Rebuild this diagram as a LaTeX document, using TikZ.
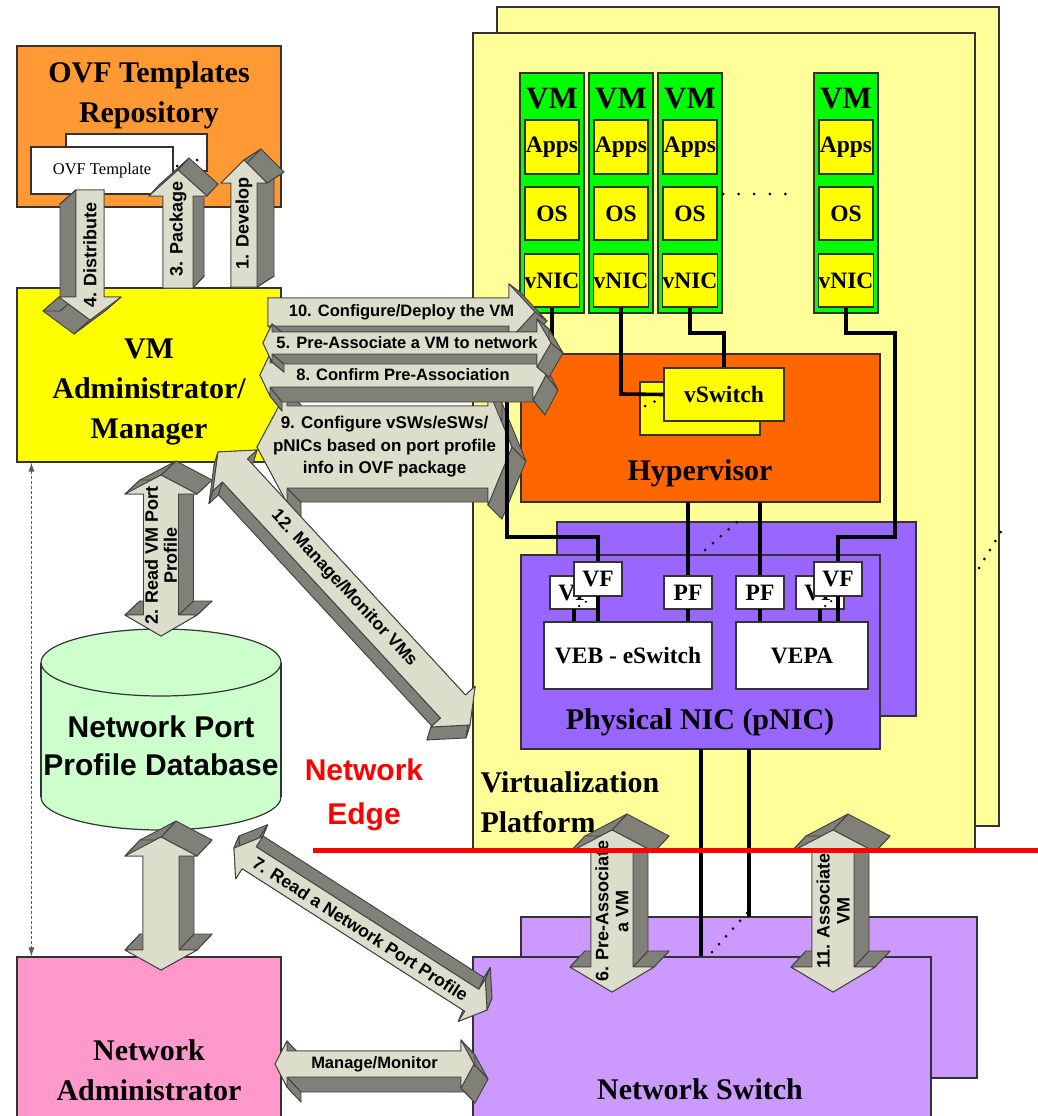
\documentclass[tikz,border=0pt]{standalone}
\usepackage{fontspec}
\setmainfont{Liberation Serif}
\setsansfont{Liberation Sans}
\usetikzlibrary{calc,arrows.meta}
\definecolor{vpy}{HTML}{FFFF99}
\definecolor{vmg}{HTML}{00FF00}
\definecolor{yel}{HTML}{FFFF00}
\definecolor{hypc}{HTML}{FF6600}
\definecolor{pnicc}{HTML}{9966FF}
\definecolor{nswc}{HTML}{CC99FF}
\definecolor{ovfc}{HTML}{FF9933}
\definecolor{dbg}{HTML}{CCFFCC}
\definecolor{nadmc}{HTML}{FF99CC}
\definecolor{afront}{HTML}{DDDDCC}
\definecolor{adark}{HTML}{808078}
\definecolor{edgec}{HTML}{333333}
\definecolor{arrline}{HTML}{404040}

\newcommand\rbox[7]{\node[#2, inner sep=0pt, minimum width={(#5)-(#3)}, minimum height={(#6)-(#4)}] (#1) at ({((#3)+(#5))/2},{((#4)+(#6))/2}) {#7};}
\newcommand\tdfont{\fontsize{17.5}{21}\selectfont}
% #1 from, #2 to, #3 shaft half width, #4/#5 head at from (length/half width), #6/#7 head at to, #8 extrusion offset, #9 text
\newcommand\tdarrow[9]{%
  \path let \p1=($(#2)-(#1)$) in \pgfextra{\pgfmathsetmacro\tdang{atan2(\y1,\x1)}\pgfmathsetmacro\tdlen{veclen(\x1,\y1)}\xdef\tdA{\tdang}\xdef\tdL{\tdlen}};
  \begin{scope}[shift={(#1)},rotate=\tdA]
    \coordinate (q1) at (0,0);
    \coordinate (q2) at (#4,#5);
    \coordinate (q3) at (#4,#3);
    \coordinate (q4) at ({\tdL-(#6)},#3);
    \coordinate (q5) at ({\tdL-(#6)},#7);
    \coordinate (q6) at (\tdL,0);
    \coordinate (q7) at ({\tdL-(#6)},-#7);
    \coordinate (q8) at ({\tdL-(#6)},-#3);
    \coordinate (q9) at (#4,-#3);
    \coordinate (q10) at (#4,-#5);
    \coordinate (qm) at ({\tdL/2},0);
  \end{scope}
  \foreach \i [remember=\i as \j (initially 10)] in {1,...,10}
    {\filldraw[arrdark] (q\j) -- (q\i) -- ($(q\i)+#8$) -- ($(q\j)+#8$) -- cycle;}
  \filldraw[arrfront] (q1) -- (q2) -- (q3) -- (q4) -- (q5) -- (q6) -- (q7) -- (q8) -- (q9) -- (q10) -- cycle;
  \node[font=\sffamily\bfseries\tdfont, align=center, rotate=\tdA, inner sep=0pt] at (qm) {#9};
}

\begin{document}
\begin{tikzpicture}[x=1pt,y=-1pt,
  bx/.style={draw=edgec, line width=1.2pt},
  wire/.style={line width=3.6pt, line join=miter},
  dotsty/.style={line width=3pt, line cap=round, dash pattern=on 0pt off 10.5pt},
  arrfront/.style={fill=afront, draw=arrline, line width=0.9pt, line join=round},
  arrdark/.style={fill=adark, draw=arrline, line width=0.9pt, line join=round},
  bigf/.style={font=\fontsize{30}{40}\selectfont\bfseries, align=center},
  midf/.style={font=\fontsize{23.5}{26}\selectfont\bfseries},
]
\useasboundingbox (0,0) rectangle (1038,1116);
\clip (0,0) rectangle (1038,1116);

% ---------- virtualization platform ----------
\rbox{vpback}{bx,fill=vpy}{497}{7}{999}{826}{}
\rbox{vpfront}{bx,fill=vpy}{473}{33}{975}{851}{}
\draw[dotsty] (979,568) -- (1002,530);

% VMs
\foreach \n/\x in {1/520,2/589,3/658,4/814}{
  \rbox{vm\n}{bx,fill=vmg}{\x}{73}{\x+64}{313}{}
  \node[font=\fontsize{31}{32}\selectfont\bfseries] (vml\n) at (\x+32,99) {VM};
  \rbox{apps\n}{bx,fill=yel,midf}{\x+5}{120}{\x+59}{174}{Apps}
  \rbox{os\n}{bx,fill=yel,midf}{\x+5}{187}{\x+59}{240}{OS}
  \rbox{vnic\n}{bx,fill=yel,midf}{\x+5}{254}{\x+59}{307}{vNIC}
}
\draw[dotsty, dash pattern=on 0pt off 15.6pt] (723,194) -- (801,194);

% hypervisor
\rbox{hyp}{bx,fill=hypc}{521}{354}{880}{502}{}
\node[bigf] (hyplbl) at (700,473) {Hypervisor};
\rbox{vswb}{bx,fill=yel}{640}{382}{760}{435}{}
\draw[dotsty] (645,406) -- (656,401);
\rbox{vsw}{bx,fill=yel,midf}{664}{368}{784}{421}{vSwitch}

% pNIC
\rbox{pnicb}{bx,fill=pnicc}{557}{522}{916}{716}{}
\draw[dotsty] (705,550) -- (737,522);
\rbox{pnic}{bx,fill=pnicc}{521}{555}{880}{749}{}
\node[bigf] (pniclbl) at (700,722) {Physical NIC (pNIC)};

% network switch
\rbox{nswb}{bx,fill=nswc}{521}{917}{977}{1078}{}
\draw[wire] (701,749) -- (701,957);
\draw[wire] (749,749) -- (749,917);
\draw[dotsty] (712,952) -- (748,912);
\rbox{nsw}{bx,fill=nswc}{473}{957}{931}{1130}{}
\node[bigf] (nswlbl) at (700,1089) {Network Switch};

% ---------- left column ----------
\rbox{ovf}{bx,fill=ovfc}{17}{46}{281}{207}{}
\node[bigf] (ovflbl) at (149,95) {OVF Templates\\Repository};
\rbox{ovfb}{bx,fill=white}{66}{134}{207}{171}{}
\draw[dotsty] (177,166) -- (207,157);
\rbox{ovft}{bx,fill=white,font=\fontsize{16.5}{18}\selectfont}{31}{147}{173}{194}{OVF Template}

\rbox{vmadm}{bx,fill=yel}{17}{288}{281}{462}{}
\node[bigf] (vmadmlbl) at (149,392) {VM\\Administrator/\\Manager};

\filldraw[bx, fill=dbg] (161,797) ellipse [x radius=120pt, y radius=33pt];
\fill[dbg] (41,662.5) rectangle (281,797);
\draw[bx] (41,662.5) -- (41,797) (281,662.5) -- (281,797);
\filldraw[bx, fill=dbg] (161,662.5) ellipse [x radius=120pt, y radius=33.5pt];
\node[font=\sffamily\bfseries\fontsize{30}{38}\selectfont, align=center] (db) at (161,746) {Network Port\\Profile Database};

\rbox{nadm}{bx,fill=nadmc}{17}{957}{281}{1130}{}
\node[bigf] (nadmlbl) at (149,1070) {Network\\Administrator};

\draw[densely dashed, line width=0.8pt, black!65, {Latex[length=9pt,width=6pt]}-{Latex[length=9pt,width=6pt]}] ($(vmadm.south west)+(15,0)$) -- ($(nadm.north west)+(15,0)$);

% ---------- arrow 9 (behind wires) ----------
\coordinate (a9s) at (257,447); \coordinate (a9e) at (512,447);
\renewcommand\tdfont{\fontsize{17}{22.5}\selectfont}
\tdarrow{a9s}{a9e}{41}{30}{56}{24}{58}{(14,14)}{9. Configure vSWs/eSWs/\\pNICs based on port profile\\info in OVF package}

% ---------- wires ----------
\draw[wire] (vnic1.south) -- (552,338) -- (507,338) -- (507,537) -- (598,537) -- (598,562);
\draw[wire] (vnic2.south) -- (621,394) -- (vsw.west);
\draw[wire] (vnic3.south) -- (690,333) -- (724,333) -- (vsw.north);
\draw[wire] (vnic4.south) -- (846,333) -- (895,333) -- (895,537) -- (838,537) -- (838,562);
\draw[wire] (688,502) -- (688,576);
\draw[wire] (760,502) -- (760,576);

% VF / PF
\rbox{vflb}{bx,fill=white,midf}{550}{576}{598}{609}{VF}
\draw[dotsty, line width=2.5pt, dash pattern=on 0pt off 8pt] (579,606) -- (592,598);
\rbox{vfl}{bx,fill=white,midf}{574}{562}{622}{596}{VF}
\rbox{pfa}{bx,fill=white,midf}{664}{576}{712}{609}{PF}
\rbox{pfb}{bx,fill=white,midf}{736}{576}{784}{609}{PF}
\rbox{vfrb}{bx,fill=white,midf}{796}{576}{844}{609}{VF}
\draw[dotsty, line width=2.5pt, dash pattern=on 0pt off 8pt] (825,606) -- (834,599);
\rbox{vfr}{bx,fill=white,midf}{814}{562}{862}{596}{VF}
\draw[wire] (574,609) -- (574,622);
\draw[wire] (598,596) -- (598,622);
\draw[wire] (688,609) -- (688,622);
\draw[wire] (760,609) -- (760,622);
\draw[wire] (820,609) -- (820,622);
\draw[wire] (838,596) -- (838,622);
\rbox{veb}{bx,fill=white,midf}{544}{622}{712}{689}{VEB - eSwitch}
\rbox{vepa}{bx,fill=white,midf}{736}{622}{868}{689}{VEPA}

\node[bigf, anchor=west, align=left] (vplbl) at (477,802) {Virtualization\\Platform};

% ---------- block arrows ----------
\renewcommand\tdfont{\fontsize{16.5}{20}\selectfont}
\coordinate (a8s) at (260,375); \coordinate (a8e) at (546,375);
\tdarrow{a8s}{a8e}{12}{10}{21}{13}{25}{(12,15)}{8. Confirm Pre-Association}
\coordinate (a10s) at (268,312); \coordinate (a10e) at (535,312);
\tdarrow{a10s}{a10e}{14}{0}{14}{26}{28}{(12,9)}{10. Configure/Deploy the VM}
\coordinate (a5s) at (263,343); \coordinate (a5e) at (551,343);
\tdarrow{a5s}{a5e}{11}{9}{19}{14}{24}{(12,10)}{5. Pre-Associate a VM to network}

\renewcommand\tdfont{\fontsize{18}{19}\selectfont}
\coordinate (a4s) at (90,320); \coordinate (a4e) at (90,190);
\tdarrow{a4s}{a4e}{14}{23}{31}{0}{14}{(-16,14)}{4. Distribute}
\coordinate (a3s) at (178,288); \coordinate (a3e) at (178,170);
\tdarrow{a3s}{a3e}{15}{0}{15}{26}{29}{(11,-12)}{3. Package}
\coordinate (a1s) at (244,287); \coordinate (a1e) at (244,160);
\tdarrow{a1s}{a1e}{13}{0}{13}{23}{23}{(17,-11)}{1. Develop}
\coordinate (a2s) at (161,636); \coordinate (a2e) at (161,475);
\tdarrow{a2s}{a2e}{17.5}{21}{36}{19}{36}{(15,-14)}{2. Read VM Port\\Profile}
\coordinate (aEs) at (161,970); \coordinate (aEe) at (161,837);
\tdarrow{aEs}{aEe}{18}{20}{36}{19}{36}{(15,-16)}{}

\renewcommand\tdfont{\fontsize{16.5}{20}\selectfont}
\coordinate (aFs) at (275,1064); \coordinate (aFe) at (474,1064);
\tdarrow{aFs}{aFe}{13}{12}{23}{13}{24}{(14,15)}{Manage/Monitor}

\renewcommand\tdfont{\fontsize{17.5}{21}\selectfont}
\coordinate (a7s) at (234,848); \coordinate (a7e) at (487,1010);
\tdarrow{a7s}{a7e}{13}{18}{25}{18}{25}{(5,-12)}{7. Read a Network Port Profile}
\coordinate (a12s) at (218,452); \coordinate (a12e) at (470,725);
\tdarrow{a12s}{a12e}{17}{25}{30}{25}{30}{(-4,13)}{12. Manage/Monitor VMs}

\renewcommand\tdfont{\fontsize{18}{20}\selectfont}
\coordinate (a6s) at (612,992); \coordinate (a6e) at (612,830);
\tdarrow{a6s}{a6e}{21}{25}{42}{22}{42}{(15,-16)}{6. Pre-Associate\\a VM}
\coordinate (a11s) at (833,992); \coordinate (a11e) at (833,830);
\tdarrow{a11s}{a11e}{21}{25}{42}{22}{42}{(15,-16)}{11. Associate\\VM}

% ---------- network edge ----------
\coordinate (re1) at (313,850); \coordinate (re2) at (1038,850);
\draw[red, line width=5pt] (re1) -- (re2);
\node[text=red, font=\sffamily\bfseries\fontsize{30}{44}\selectfont, align=center] (nedge) at (364,795) {Network\\Edge};
\end{tikzpicture}
\end{document}
